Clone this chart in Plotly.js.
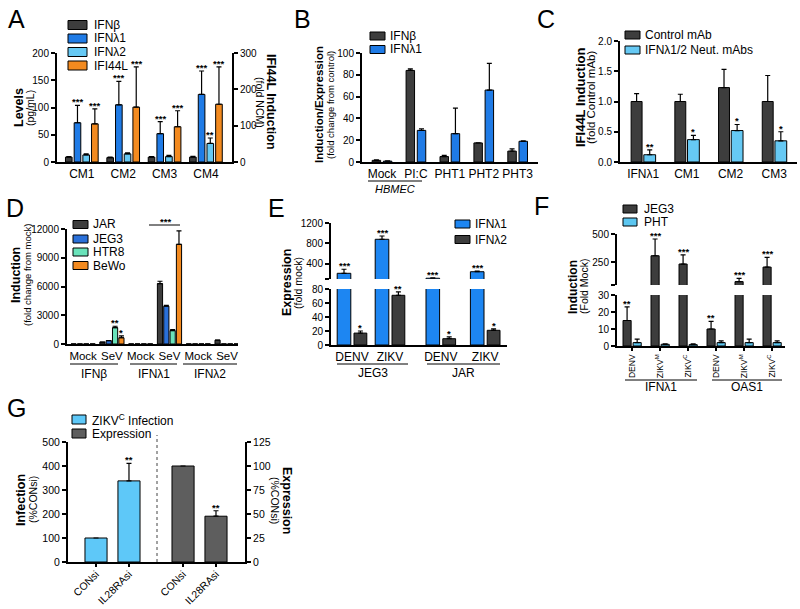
<!DOCTYPE html>
<html><head><meta charset="utf-8">
<script src="https://cdn.plot.ly/plotly-3.0.1.min.js"></script>
<style>html,body{margin:0;padding:0;background:#fff}#chart{width:800px;height:609px}</style>
</head><body><div id="chart"></div>
<script>
// ---------- DATA ----------
// Panel A
const aCats = ['CM1','CM2','CM3','CM4'];
const aIFNb = [9,8,9,9],        aIFNbErr = [1,1,1,1.5];
const aIFNl1 = [72,105,52,124], aIFNl1Err = [32,43,22,43];
const aIFNl2 = [13,15,10,34],   aIFNl2Err = [2,2,2,10];
const aIFI44L = [105,151,97,159], aIFI44LErr = [41,111,44,103];
const aSigL1 = ['***','***','***','***'], aSigL2 = ['','','','**'], aSigI = ['***','***','***','***'];
// Panel B
const bCats = ['Mock','PI:C','PHT1','PHT2','PHT3'];
const bIFNb = [1.5,84,5,17.5,10],  bIFNbErr = [0.5,1.5,1,0,2];
const bIFNl1 = [0.8,29,26,66,19],  bIFNl1Err = [0.2,1.5,23.5,24.5,0.5];
// Panel C
const cCats = ['IFNλ1','CM1','CM2','CM3'];
const cCtrl = [1.0,1.0,1.23,1.0],   cCtrlErr = [0.13,0.12,0.3,0.43];
const cNeut = [0.12,0.37,0.52,0.35], cNeutErr = [0.08,0.07,0.1,0.15];
const cSig = ['**','*','*','*'];
// Panel D
const dCats = ['Mock','SeV','Mock','SeV','Mock','SeV'];
const dGroups = ['IFNβ','IFNλ1','IFNλ2'];
const dJAR  = [1,200,1,6300,1,400],  dJARErr  = [0,0,0,250,0,0];
const dJEG3 = [1,350,1,3950,1,0],    dJEG3Err = [0,0,0,80,0,0];
const dHTR8 = [1,1700,1,1400,1,0],   dHTR8Err = [0,150,0,100,0,0];
const dBeWo = [1,650,1,10400,1,0],   dBeWoErr = [0,200,0,1400,0,0];
const dSigHTR8 = ['','**','','','',''], dSigBeWo = ['','*','','','',''];
// Panel E
const eCats = ['DENV','ZIKV','DENV','ZIKV'];
const eGroups = ['JEG3','JAR'];
const eIFNl1 = [212,880,115,243], eIFNl1Err = [80,65,10,12];
const eIFNl2 = [17,71,9,21],      eIFNl2Err = [3,5,2.5,2];
const eSig1 = ['***','***','***','***'], eSig2 = ['*','**','*','*'];
// Panel F
const fCats = ['DENV','ZIKV<sup>M</sup>','ZIKV<sup>C</sup>','DENV','ZIKV<sup>M</sup>','ZIKV<sup>C</sup>'];
const fGroups = ['IFNλ1','OAS1'];
const fJEG3 = [15,308,235,10,80,208], fJEG3Err = [8,148,80,4.5,28,85];
const fPHT  = [2,1,0.8,2,2,2],        fPHTErr  = [2,0.3,0.5,1,2,1];
const fSig = ['**','***','***','**','***','***'];
// Panel G
const gCats = ['CONsi','IL28RAsi','CONsi','IL28RAsi'];
const gInf = [100,338], gInfErr = [0,73];
const gExp = [100,47.7], gExpErr = [0,5.7];
const gSigInf = ['','**'], gSigExp = ['','**'];

// ---------- STYLE / LAYOUT HELPERS ----------
const FONT = '"Liberation Sans", Arial, Helvetica, sans-serif';
const BLACK = '#000';
const COL = {dark:'#3d3d3d', blue:'#1f7be6', light:'#66c9f4', orange:'#f38a1f',
  mint:'#6ae3ba', jeg3:'#2a70d9', eblue:'#1d86f2', gray:'#5e5e5e', pht:'#5cc6f0', glight:'#5ec8f8'};
const W = 800, H = 609;
const px = x => x / W, py = y => 1 - y / H;
const idx = a => a.map((_, i) => i);
const ePos = [0, 0.95, 2.22, 3.33];
const gPos = [0, 1, 2.64, 3.64];
const fnt = (s, extra) => Object.assign({family:FONT, size:s, color:BLACK}, extra || {});

function bars(xa, ya, x, y, err, color, center, w) {
  const t = {type:'bar', xaxis:xa, yaxis:ya, x:x, y:y, offset:center - w/2, width:w,
    marker:{color:color, line:{color:BLACK, width:1}}, showlegend:false, hoverinfo:'skip'};
  if (err) t.error_y = {type:'data', symmetric:false, array:err, arrayminus:err.map(() => 0),
    color:BLACK, thickness:1.2, width:2.5};
  return t;
}
const base = {showgrid:false, zeroline:false, showline:true, linecolor:BLACK, linewidth:2,
  tickcolor:BLACK, tickwidth:2, ticklen:4, fixedrange:true};
function xax(dom, range, tv, tt, anchor, extra) {
  return Object.assign({}, base, {domain:[px(dom[0]), px(dom[1])], range:range, tickmode:'array',
    tickvals:tv, ticktext:tt, anchor:anchor, ticks:'', tickfont:fnt(12)}, extra || {});
}
function yax(dom, range, tv, tt, anchor, extra) {
  return Object.assign({}, base, {domain:[py(dom[0]), py(dom[1])], range:range, tickmode:'array',
    tickvals:tv, ticktext:tt || tv.map(String), anchor:anchor, ticks:'outside',
    tickfont:fnt(10)}, extra || {});
}

const shapes = [], annotations = [];
function note(x, y, text, size, extra) {
  annotations.push(Object.assign({xref:'paper', yref:'paper', x:px(x), y:py(y), xanchor:'center',
    yanchor:'middle', text:text, showarrow:false, font:fnt(size)}, extra || {}));
}
function addLegend(x0, w, h, tx, fs, entries) {
  entries.forEach(([color, label, yc]) => {
    shapes.push({type:'rect', xref:'paper', yref:'paper', x0:px(x0), x1:px(x0 + w),
      y0:py(yc + h/2), y1:py(yc - h/2), fillcolor:color, line:{color:BLACK, width:1}});
    note(tx, yc, label, fs, {xanchor:'left'});
  });
}
function ytitle(xb, xs, y, bold, sub, angle, bs, ss) {
  note(xb, y, '<b>' + bold + '</b>', bs, {textangle:angle});
  note(xs, y, sub, ss, {textangle:angle});
}
function sig(xa, ya, x, y, label) {
  if (!label) return;
  annotations.push({xref:xa, yref:ya, x:x, y:y, text:'<b>' + label + '</b>', showarrow:false,
    yanchor:'bottom', yshift:-4, font:fnt(9.5)});
}
function groupLabel(x0, x1, yl, yt, text, fs) {
  shapes.push({type:'line', xref:'paper', yref:'paper', x0:px(x0), x1:px(x1), y0:py(yl), y1:py(yl),
    line:{color:BLACK, width:1}});
  note((x0 + x1)/2, yt, text, fs || 12);
}

// ---------- TRACES ----------
const T = [];
const aX = idx(aCats), bX = idx(bCats), cX = idx(cCats), dX = idx(dCats), fX = idx(fCats);
// A
T.push(bars('x','y',aX,aIFNb,aIFNbErr,COL.dark,-0.315,0.16));
T.push(bars('x','y',aX,aIFNl1,aIFNl1Err,COL.blue,-0.105,0.16));
T.push(bars('x','y',aX,aIFNl2,aIFNl2Err,COL.light,0.105,0.16));
T.push(bars('x','y2',aX,aIFI44L,aIFI44LErr,COL.orange,0.315,0.16));
aX.forEach(i => {
  sig('x','y',i-0.105,aIFNl1[i]+aIFNl1Err[i],aSigL1[i]);
  sig('x','y',i+0.105,aIFNl2[i]+aIFNl2Err[i],aSigL2[i]);
  sig('x','y2',i+0.315,aIFI44L[i]+aIFI44LErr[i],aSigI[i]);
});
// B
T.push(bars('x2','y3',bX,bIFNb,bIFNbErr,COL.dark,-0.165,0.25));
T.push(bars('x2','y3',bX,bIFNl1,bIFNl1Err,COL.blue,0.165,0.25));
// C
T.push(bars('x3','y4',cX,cCtrl,cCtrlErr,COL.dark,-0.15,0.25));
T.push(bars('x3','y4',cX,cNeut,cNeutErr,COL.light,0.15,0.27));
cX.forEach(i => sig('x3','y4',i+0.15,cNeut[i]+cNeutErr[i],cSig[i]));
// D
T.push(bars('x4','y5',dX,dJAR,dJARErr,COL.dark,-0.33,0.18));
T.push(bars('x4','y5',dX,dJEG3,dJEG3Err,COL.jeg3,-0.11,0.18));
T.push(bars('x4','y5',dX,dHTR8,dHTR8Err,COL.mint,0.11,0.18));
T.push(bars('x4','y5',dX,dBeWo,dBeWoErr,COL.orange,0.33,0.18));
dX.forEach(i => {
  sig('x4','y5',i+0.11,dHTR8[i]+dHTR8Err[i],dSigHTR8[i]);
  sig('x4','y5',i+0.33,dBeWo[i]+dBeWoErr[i],dSigBeWo[i]);
});
// E (broken axis: lower y6, upper y7)
T.push(bars('x5','y6',ePos,eIFNl1,eIFNl1Err,COL.eblue,-0.2,0.34));
T.push(bars('x5','y7',ePos,eIFNl1,eIFNl1Err,COL.eblue,-0.2,0.34));
T.push(bars('x5','y6',ePos,eIFNl2,eIFNl2Err,COL.dark,0.21,0.32));
ePos.forEach((p, i) => {
  const t1 = eIFNl1[i] + eIFNl1Err[i];
  sig('x5', t1 > 80 ? 'y7' : 'y6', p-0.2, t1, eSig1[i]);
  sig('x5','y6',p+0.21,eIFNl2[i]+eIFNl2Err[i],eSig2[i]);
});
// F (broken axis: lower y8, upper y9)
T.push(bars('x6','y8',fX,fJEG3,fJEG3Err,COL.dark,-0.18,0.29));
T.push(bars('x6','y9',fX,fJEG3,fJEG3Err,COL.dark,-0.18,0.29));
T.push(bars('x6','y8',fX,fPHT,fPHTErr,COL.pht,0.18,0.29));
fX.forEach(i => {
  const t = fJEG3[i] + fJEG3Err[i];
  sig('x6', t > 30 ? 'y9' : 'y8', i-0.18, t, fSig[i]);
});
// G
T.push(bars('x7','y10',gPos.slice(0,2),gInf,gInfErr,COL.glight,0,0.67));
T.push(bars('x7','y11',gPos.slice(2),gExp,gExpErr,COL.gray,0,0.67));
gInf.forEach((v, i) => sig('x7','y10',gPos[i],v+gInfErr[i],gSigInf[i]));
gExp.forEach((v, i) => sig('x7','y11',gPos[i+2],v+gExpErr[i],gSigExp[i]));

// ---------- DECORATIONS ----------
[['A',16.5,19],['B',302,19],['C',546,19],['D',15,208],['E',276,208],['F',541,206],['G',16.5,408]]
  .forEach(([t, x, y]) => note(x, y, t, 25));

ytitle(19,30,108,'Levels','(pg/mL)',-90,12.5,10.5);
ytitle(271,260,102,'IFI44L Induction','(fold NCM)',90,12.5,10.5);
ytitle(319,330,105,'Induction/Expression','(fold change from control)',-90,11.5,9.5);
ytitle(580,591,98,'IFI44L Induction','(fold Control mAb)',-90,13,11.5);
ytitle(16,27,275,'Induction','(fold change from mock)',-90,12.5,9.5);
ytitle(287,298,283,'Expression','(fold mock)',-90,12.5,10.5);
ytitle(573,584,287,'Induction','(Fold Mock)',-90,12,10.5);
ytitle(21,33,500,'Infection','(%CONsi)',-90,12.5,10.5);
ytitle(287,275,500,'Expression','(%CONsi)',90,12.5,10.5);

addLegend(68,19,9,92,12,[[COL.dark,'IFNβ',25],[COL.blue,'IFNλ1',38.5],[COL.light,'IFNλ2',52],[COL.orange,'IFI44L',65.5]]);
addLegend(370,15,8,388,12,[[COL.dark,'IFNβ',36],[COL.blue,'IFNλ1',49.5]]);
addLegend(625,15,8,643,12,[[COL.dark,'Control mAb',35],[COL.light,'IFNλ1/2 Neut. mAbs',50]]);
addLegend(73,15,8,91,12,[[COL.dark,'JAR',224.5],[COL.jeg3,'JEG3',239],[COL.mint,'HTR8',252],[COL.orange,'BeWo',265.5]]);
addLegend(455,15,8,473,12,[[COL.eblue,'IFNλ1',224],[COL.dark,'IFNλ2',239.5]]);
addLegend(623,14,8,642,12,[[COL.dark,'JEG3',209],[COL.pht,'PHT',222]]);
addLegend(72,14,9,90,12,[[COL.glight,'ZIKV<sup>C</sup> Infection',419.5],[COL.gray,'Expression',433.5]]);

groupLabel(368,422,181,189,'<i>HBMEC</i>',11);
dGroups.forEach((g, i) => groupLabel([70,130,183][i],[118,177,237][i],364,374,g,12));
eGroups.forEach((g, i) => groupLabel([337,427][i],[408,500][i],364,373,g,12));
fGroups.forEach((g, i) => groupLabel([625,712][i],[697,782][i],380,387,g,12));
// D bracket for ***
shapes.push({type:'line', xref:'paper', yref:'paper', x0:px(149), x1:px(180), y0:py(225), y1:py(225), line:{color:BLACK, width:1}});
note(165, 225, '<b>***</b>', 9.5, {yanchor:'bottom', yshift:-4});
// G dashed divider
shapes.push({type:'line', xref:'paper', yref:'paper', x0:px(157), x1:px(157), y0:py(562), y1:py(435),
  line:{color:'#444', width:1, dash:'dot'}});

// ---------- LAYOUT ----------
const layout = {
  width:W, height:H, margin:{l:0, r:0, t:0, b:0}, paper_bgcolor:'#fff', plot_bgcolor:'rgba(0,0,0,0)',
  barmode:'overlay', showlegend:false, font:fnt(12),
  xaxis:  xax([57,232],[-0.6,3.63],aX,aCats,'y'),
  yaxis:  yax([162,53],[0,200],[0,50,100,150,200],null,'x'),
  yaxis2: yax([162,53],[0,300],[0,100,200,300],null,'x',{overlaying:'y', side:'right'}),
  xaxis2: xax([362,538],[-0.59,4.6],bX,bCats,'y3'),
  yaxis3: yax([162,53],[0,100],[0,20,40,60,80,100],null,'x2'),
  xaxis3: xax([620,797],[-0.53,3.52],cX,cCats,'y4'),
  yaxis4: yax([162,41],[0,2],[0,0.5,1,1.5,2],['0.0','0.5','1.0','1.5','2.0'],'x3'),
  xaxis4: xax([67,238],[-0.56,5.38],dX,dCats,'y5',{tickfont:fnt(11.5)}),
  yaxis5: yax([344,229],[0,12000],[0,3000,6000,9000,12000],null,'x4'),
  xaxis5: xax([331,507],[-0.525,3.875],ePos,eCats,'y6'),
  yaxis6: yax([345,289],[0,80],[0,20,40,60,80],null,'x5'),
  yaxis7: yax([279,223],[100,1200],[100,400,800,1200],['','400','800','1200'],'x5'),
  xaxis6: xax([617,785],[-0.54,5.46],fX,fCats,'y8',{ticks:'outside', ticklen:3, tickwidth:1.5, tickangle:-90, tickfont:fnt(8.5)}),
  yaxis8: yax([346,295],[0,30],[0,10,20,30],null,'x6'),
  yaxis9: yax([285,234],[50,500],[50,250,500],['','250','500'],'x6'),
  xaxis7: xax([68,245],[-0.85,4.52],gPos,gCats,'y10',{ticks:'outside', ticklen:3, tickwidth:1.5, tickangle:-45, tickfont:fnt(10.5), ticklabelstandoff:-3}),
  yaxis10: yax([562,442],[0,500],[0,100,200,300,400,500],null,'x7',{tickfont:fnt(10.5)}),
  yaxis11: yax([562,442],[0,125],[0,25,50,75,100,125],null,'x7',{overlaying:'y10', side:'right', tickfont:fnt(10.5)}),
  shapes:shapes, annotations:annotations
};
Plotly.newPlot('chart', T, layout, {staticPlot:true, displayModeBar:false});
</script></body></html>
